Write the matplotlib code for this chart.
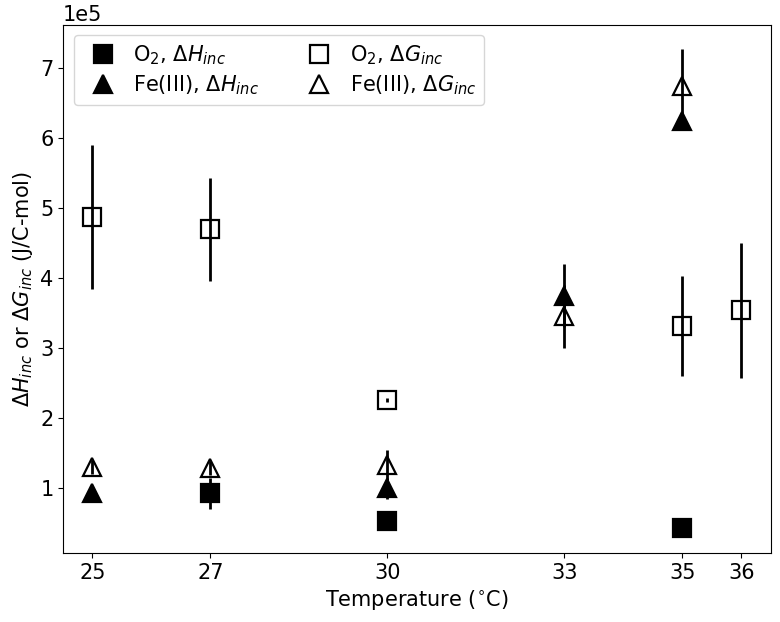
import matplotlib
matplotlib.use("Agg")
import matplotlib.pyplot as plt
from matplotlib.lines import Line2D

# O2, dH_inc
o2_h_temp = [27, 30, 35]
o2_h_val = [0.92e5, 0.53e5, 0.43e5]
o2_h_err = [0.22e5, 0.02e5, 0.02e5]

# Fe(III), dH_inc
fe_h_temp = [25, 30, 33, 35]
fe_h_val = [0.93e5, 0.99e5, 3.74e5, 6.24e5]
fe_h_err = [0.03e5, 0.15e5, 0.45e5, 0.05e5]

# O2, dG_inc
o2_g_temp = [25, 27, 30, 35, 36]
o2_g_val = [4.87e5, 4.69e5, 2.25e5, 3.31e5, 3.535e5]
o2_g_err = [1.03e5, 0.73e5, 0.03e5, 0.72e5, 0.965e5]

# Fe(III), dG_inc
fe_g_temp = [25, 27, 30, 33, 35]
fe_g_val = [1.29e5, 1.28e5, 1.32e5, 3.45e5, 6.74e5]
fe_g_err = [0.1e5, 0.1e5, 0.22e5, 0.45e5, 0.53e5]

xticks = [25, 27, 30, 33, 35, 36]

fig = plt.figure(figsize=(7.8, 6.22), dpi=100)
ax = fig.add_axes([0.081, 0.111, 0.907, 0.849])

style = dict(ls="none", ecolor="black", elinewidth=2, capsize=0,
             markersize=13, markeredgewidth=1.6, color="black")

series = [
    (o2_h_temp, o2_h_val, o2_h_err, "s", "black", r"O$_2$, $\Delta H_{inc}$"),
    (fe_h_temp, fe_h_val, fe_h_err, "^", "black", r"Fe(III), $\Delta H_{inc}$"),
    (o2_g_temp, o2_g_val, o2_g_err, "s", "none", r"O$_2$, $\Delta G_{inc}$"),
    (fe_g_temp, fe_g_val, fe_g_err, "^", "none", r"Fe(III), $\Delta G_{inc}$"),
]

handles = []
for temp, val, err, mk, fc, lab in series:
    ax.errorbar(temp, val, yerr=err, marker=mk, mfc=fc, **style)
    handles.append(Line2D([], [], ls="none", marker=mk, mfc=fc, mec="black",
                          markersize=13, markeredgewidth=1.6, label=lab))

ax.margins(x=0.045)
ax.set_xticks(xticks)
ax.ticklabel_format(style="sci", axis="y", scilimits=(0, 0))
ax.tick_params(labelsize=15)
ax.yaxis.get_offset_text().set_fontsize(15)
ax.set_xlabel("Temperature ($^{\\circ}$C)", fontsize=15)
ax.set_ylabel(r"$\Delta H_{inc}$ or $\Delta G_{inc}$ (J/C-mol)", fontsize=15)

ax.legend(handles=handles, ncol=2, loc="upper left", fontsize=15,
          columnspacing=1.9, handletextpad=0.45, labelspacing=0.3,
          borderaxespad=0.5)

fig.savefig("out.png", dpi=100)
